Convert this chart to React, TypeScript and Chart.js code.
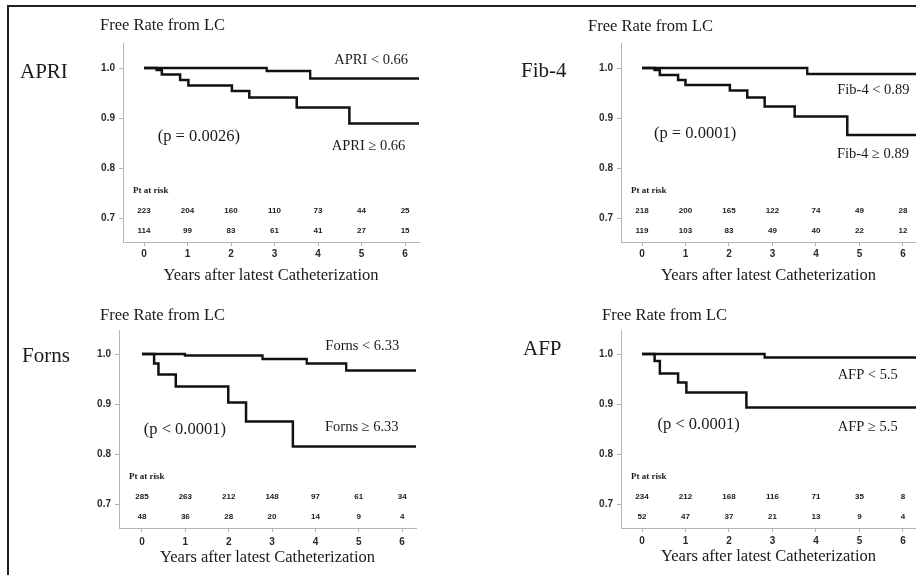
import React, { useEffect, useRef } from "react";
import { Chart, registerables } from "chart.js";

Chart.register(...registerables);

// ---- data ----
const years = [0, 1, 2, 3, 4, 5, 6];
const yTicks = [0.7, 0.8, 0.9, 1.0];

const apriLowTimes = [0, 2.82, 3.82, 6.32];
const apriLowSurv = [1.0, 0.994, 0.979, 0.979];
const apriHighTimes = [0, 0.29, 0.41, 0.83, 1.02, 2.02, 2.42, 3.51, 4.72, 6.32];
const apriHighSurv = [1.0, 0.996, 0.987, 0.976, 0.965, 0.954, 0.941, 0.921, 0.889, 0.889];
const apriRiskLow = [223, 204, 160, 110, 73, 44, 25];
const apriRiskHigh = [114, 99, 83, 61, 41, 27, 15];

const fibLowTimes = [0, 3.8, 6.3];
const fibLowSurv = [1.0, 0.988, 0.988];
const fibHighTimes = [0, 0.29, 0.41, 0.83, 1.0, 2.02, 2.42, 2.82, 3.51, 4.72, 6.3];
const fibHighSurv = [1.0, 0.996, 0.986, 0.976, 0.966, 0.955, 0.941, 0.923, 0.903, 0.866, 0.866];
const fibRiskLow = [218, 200, 165, 122, 74, 49, 28];
const fibRiskHigh = [119, 103, 83, 49, 40, 22, 12];

const fornsLowTimes = [0, 0.99, 2.78, 3.8, 4.71, 6.32];
const fornsLowSurv = [1.0, 0.997, 0.99, 0.981, 0.967, 0.967];
const fornsHighTimes = [0, 0.28, 0.38, 0.78, 1.99, 2.4, 3.48, 6.32];
const fornsHighSurv = [1.0, 0.981, 0.959, 0.935, 0.903, 0.865, 0.815, 0.815];
const fornsRiskLow = [285, 263, 212, 148, 97, 61, 34];
const fornsRiskHigh = [48, 36, 28, 20, 14, 9, 4];

const afpLowTimes = [0, 2.82, 6.3];
const afpLowSurv = [1.0, 0.993, 0.993];
const afpHighTimes = [0, 0.29, 0.41, 0.83, 1.02, 2.4, 6.3];
const afpHighSurv = [1.0, 0.986, 0.961, 0.943, 0.923, 0.893, 0.893];
const afpRiskLow = [234, 212, 168, 116, 71, 35, 8];
const afpRiskHigh = [52, 47, 37, 21, 13, 9, 4];

const yTitle = "Free Rate from LC";
const xTitle = "Years after latest Catheterization";
const riskTitle = "Pt at risk";

const SERIF = '"Liberation Serif", "Times New Roman", serif';
const SANS = '"Liberation Sans", Arial, sans-serif';
const INK = "#1a1a1a";

type Panel = {
  name: string;
  left: number;
  top: number;
  w: number;
  h: number;
  pad: { left: number; top: number; right: number; bottom: number };
  xMin: number;
  xMax: number;
  yMin: number;
  yMax: number;
  lowT: number[];
  lowS: number[];
  highT: number[];
  highS: number[];
  riskLow: number[];
  riskHigh: number[];
  lowLabel: { text: string; x: number; y: number };
  highLabel: { text: string; x: number; y: number };
  pLabel: { text: string; x: number; y: number };
  titlePos: [number, number];
  namePos: [number, number];
  xTitleOffset: number;
  tickPad: number;
};

const panels: Panel[] = [
  {
    name: "APRI",
    left: 0, top: 0, w: 458, h: 290,
    pad: { left: 83, top: 43, right: 39, bottom: 8 },
    xMin: -0.483, xMax: 6.32, yMin: 0.652, yMax: 1.05,
    lowT: apriLowTimes, lowS: apriLowSurv, highT: apriHighTimes, highS: apriHighSurv,
    riskLow: apriRiskLow, riskHigh: apriRiskHigh,
    lowLabel: { text: "APRI < 0.66", x: 5.22, y: 1.016 },
    highLabel: { text: "APRI \u2265 0.66", x: 5.16, y: 0.844 },
    pLabel: { text: "(p = 0.0026)", x: 1.26, y: 0.862 },
    titlePos: [100, 26], namePos: [20, 72], xTitleOffset: 34, tickPad: 2,
  },
  {
    name: "Fib-4",
    left: 458, top: 0, w: 458, h: 290,
    pad: { left: 123, top: 43, right: 0, bottom: 8 },
    xMin: -0.483, xMax: 6.3, yMin: 0.652, yMax: 1.05,
    lowT: fibLowTimes, lowS: fibLowSurv, highT: fibHighTimes, highS: fibHighSurv,
    riskLow: fibRiskLow, riskHigh: fibRiskHigh,
    lowLabel: { text: "Fib-4 < 0.89", x: 5.32, y: 0.956 },
    highLabel: { text: "Fib-4 \u2265 0.89", x: 5.31, y: 0.828 },
    pLabel: { text: "(p = 0.0001)", x: 1.22, y: 0.868 },
    titlePos: [130, 27], namePos: [63, 71], xTitleOffset: 34, tickPad: 2,
  },
  {
    name: "Forns",
    left: 0, top: 290, w: 458, h: 285,
    pad: { left: 79, top: 40, right: 42, bottom: 7 },
    xMin: -0.53, xMax: 6.32, yMin: 0.652, yMax: 1.048,
    lowT: fornsLowTimes, lowS: fornsLowSurv, highT: fornsHighTimes, highS: fornsHighSurv,
    riskLow: fornsRiskLow, riskHigh: fornsRiskHigh,
    lowLabel: { text: "Forns < 6.33", x: 5.08, y: 1.016 },
    highLabel: { text: "Forns \u2265 6.33", x: 5.07, y: 0.854 },
    pLabel: { text: "(p < 0.0001)", x: 0.99, y: 0.848 },
    titlePos: [100, 26], namePos: [22, 66], xTitleOffset: 30, tickPad: 4,
  },
  {
    name: "AFP",
    left: 458, top: 290, w: 458, h: 285,
    pad: { left: 123, top: 40, right: 0, bottom: 7 },
    xMin: -0.483, xMax: 6.3, yMin: 0.652, yMax: 1.048,
    lowT: afpLowTimes, lowS: afpLowSurv, highT: afpHighTimes, highS: afpHighSurv,
    riskLow: afpRiskLow, riskHigh: afpRiskHigh,
    lowLabel: { text: "AFP < 5.5", x: 5.19, y: 0.958 },
    highLabel: { text: "AFP \u2265 5.5", x: 5.19, y: 0.854 },
    pLabel: { text: "(p < 0.0001)", x: 1.3, y: 0.858 },
    titlePos: [144, 26], namePos: [65, 59], xTitleOffset: 29, tickPad: 3,
  },
];

const kmText = {
  id: "kmText",
  afterDraw(chart: any, _args: any, o: any) {
    const ctx = chart.ctx as CanvasRenderingContext2D;
    const a = chart.chartArea;
    const xs = chart.scales.x;
    const ys = chart.scales.y;
    const p: Panel = o.panel;
    ctx.save();
    ctx.fillStyle = INK;
    ctx.textBaseline = "middle";

    ctx.textAlign = "left";
    ctx.font = `16.5px ${SERIF}`;
    ctx.fillText(yTitle, p.titlePos[0], p.titlePos[1]);
    ctx.font = `21px ${SERIF}`;
    ctx.fillText(p.name, p.namePos[0], p.namePos[1]);

    ctx.textAlign = "center";
    ctx.font = `14.5px ${SERIF}`;
    for (const g of [p.lowLabel, p.highLabel]) {
      ctx.fillText(g.text, xs.getPixelForValue(g.x), ys.getPixelForValue(g.y));
    }
    ctx.font = `16.5px ${SERIF}`;
    ctx.fillText(p.pLabel.text, xs.getPixelForValue(p.pLabel.x), ys.getPixelForValue(p.pLabel.y));

    ctx.textAlign = "left";
    ctx.font = `bold 9px ${SERIF}`;
    ctx.fillText(riskTitle, a.left + 10, a.bottom - 51);

    ctx.textAlign = "center";
    ctx.font = `bold 8px ${SANS}`;
    years.forEach((yr, i) => {
      const px = xs.getPixelForValue(yr);
      ctx.fillText(String(p.riskLow[i]), px, a.bottom - 31);
      ctx.fillText(String(p.riskHigh[i]), px, a.bottom - 11);
    });

    ctx.font = `16.5px ${SERIF}`;
    ctx.fillText(xTitle, (a.left + a.right) / 2, a.bottom + p.xTitleOffset);
    ctx.restore();
  },
};

function toPoints(t: number[], s: number[]) {
  return t.map((x, i) => ({ x, y: s[i] }));
}

function KMPanel({ panel }: { panel: Panel }) {
  const ref = useRef<HTMLCanvasElement | null>(null);
  useEffect(() => {
    if (!ref.current) return;
    const chart = new Chart(ref.current, {
      type: "line",
      data: {
        datasets: [
          {
            data: toPoints(panel.lowT, panel.lowS),
            stepped: "before",
            borderColor: "#111",
            borderWidth: 2.3,
            pointRadius: 0,
            fill: false,
          },
          {
            data: toPoints(panel.highT, panel.highS),
            stepped: "before",
            borderColor: "#111",
            borderWidth: 2.5,
            pointRadius: 0,
            fill: false,
          },
        ],
      },
      options: {
        responsive: false,
        animation: false,
        devicePixelRatio: 1,
        layout: { padding: panel.pad },
        plugins: {
          legend: { display: false },
          tooltip: { enabled: false },
          kmText: { panel },
        } as any,
        scales: {
          x: {
            type: "linear",
            min: panel.xMin,
            max: panel.xMax,
            afterBuildTicks: (s: any) => {
              s.ticks = years.map((v) => ({ value: v }));
            },
            afterFit: (s: any) => {
              s.height = 40;
              s.paddingLeft = 0;
              s.paddingRight = 0;
            },
            grid: {
              drawOnChartArea: false,
              drawTicks: true,
              tickLength: 4,
              color: "#b5b5b5",
            },
            border: { display: true, color: "#b5b5b5", width: 1 },
            ticks: {
              padding: panel.tickPad,
              color: "#2a2a2a",
              font: { family: SANS, size: 10, weight: "bold" },
              callback: (v: any) => String(v),
              maxRotation: 0,
            },
          },
          y: {
            type: "linear",
            min: panel.yMin,
            max: panel.yMax,
            afterBuildTicks: (s: any) => {
              s.ticks = yTicks.map((v) => ({ value: v }));
            },
            afterFit: (s: any) => {
              s.width = 40;
              s.paddingTop = 0;
              s.paddingBottom = 0;
            },
            grid: {
              drawOnChartArea: false,
              drawTicks: true,
              tickLength: 4,
              color: "#b5b5b5",
            },
            border: { display: true, color: "#b5b5b5", width: 1 },
            ticks: {
              padding: 4,
              color: "#2a2a2a",
              font: { family: SANS, size: 10, weight: "bold" },
              callback: (v: any) => Number(v).toFixed(1),
            },
          },
        },
      },
      plugins: [kmText as any],
    });
    return () => chart.destroy();
  }, [panel]);
  return (
    <canvas
      ref={ref}
      width={panel.w}
      height={panel.h}
      style={{ position: "absolute", left: panel.left, top: panel.top, width: panel.w, height: panel.h }}
    />
  );
}

export default function App() {
  return (
    <div
      style={{
        position: "fixed",
        left: 0,
        top: 0,
        width: 916,
        height: 575,
        background: "#fff",
        overflow: "hidden",
      }}
    >
      {panels.map((p) => (
        <KMPanel key={p.name} panel={p} />
      ))}
      <div
        style={{
          position: "absolute",
          left: 7,
          top: 5,
          width: 930,
          height: 600,
          borderTop: "2px solid #222",
          borderLeft: "2px solid #222",
          pointerEvents: "none",
        }}
      />
    </div>
  );
}
